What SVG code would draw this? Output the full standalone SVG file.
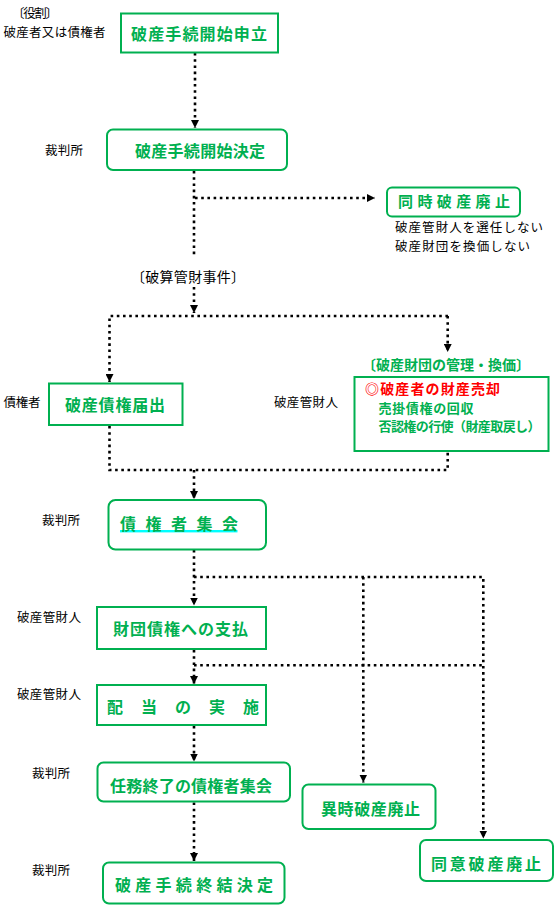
<svg xmlns="http://www.w3.org/2000/svg" width="556" height="909" viewBox="0 0 556 909">
<style>
.bx{fill:#fff;stroke:#00B050;stroke-width:2}
.gt{font-family:"Noto Sans CJK JP","Noto Sans",sans-serif;font-size:16px;font-weight:bold;fill:#00B050}
.g14{font-size:14px}
.g13{font-size:13px}
.g15{font-size:15px}
.red{fill:#FF0000}
.lb{font-family:"Noto Sans CJK JP","Noto Sans",sans-serif;font-size:12.5px;fill:#000}
.l14{font-size:14px}
.ln{fill:none;stroke:#000;stroke-width:2.6;stroke-dasharray:2.6 3.6}
.ar{marker-end:url(#ah)}
</style>
<defs>
<marker id="ah" viewBox="0 0 8 8" refX="8" refY="4" markerWidth="8" markerHeight="8" markerUnits="userSpaceOnUse" orient="auto">
<path d="M0,0 L8,4 L0,8 z" fill="#000"/>
</marker>
</defs>
<rect width="556" height="909" fill="#fff"/>

<g id="connectors">
<path class="ln ar" d="M195 53 V128"/>
<path class="ln" d="M194 171 V255"/>
<path class="ln ar" d="M194 287 V313"/>
<path class="ln ar" d="M195 198 H375"/>
<path class="ln ar" d="M448 316 H109.5 V382"/>
<path class="ln ar" d="M447.7 316 V352"/>
<path class="ln" d="M109.5 426 V470 H447.7 V452"/>
<path class="ln ar" d="M194 470 V499"/>
<path class="ln ar" d="M194 550 V605.5"/>
<path class="ln ar" d="M194 577 H483.3 V838.5"/>
<path class="ln ar" d="M363.3 577 V782.5"/>
<path class="ln ar" d="M194 650 V684"/>
<path class="ln" d="M194 665.3 H483.3"/>
<path class="ln ar" d="M194 726 V761.5"/>
<path class="ln ar" d="M194 802.5 V861"/>
</g>

<g id="roles">
<text class="lb" x="12" y="18" textLength="46">〔役割〕</text>
<text class="lb" x="3.5" y="37" textLength="102">破産者又は債権者</text>
<text class="lb" x="45" y="155" textLength="38">裁判所</text>
<text class="lb" x="3.5" y="407" textLength="37">債権者</text>
<text class="lb" x="274" y="407" textLength="64">破産管財人</text>
<text class="lb" x="42" y="525" textLength="38">裁判所</text>
<text class="lb" x="17" y="622" textLength="64">破産管財人</text>
<text class="lb" x="17" y="699" textLength="64">破産管財人</text>
<text class="lb" x="32" y="778" textLength="38">裁判所</text>
<text class="lb" x="32" y="875" textLength="38">裁判所</text>
</g>

<g id="n-moshitate">
<rect class="bx" x="121" y="13.5" width="157" height="39"/>
<text class="gt" x="131" y="39.5" textLength="136">破産手続開始申立</text>
</g>

<g id="n-kaishi-kettei">
<rect class="bx" x="107" y="129.5" width="180" height="40.5" rx="6"/>
<text class="gt" x="135" y="157" textLength="130">破産手続開始決定</text>
</g>

<g id="n-doji-haishi">
<rect class="bx" x="387" y="187.5" width="133" height="29" rx="5"/>
<text class="gt g15" x="398" y="207" textLength="112">同時破産廃止</text>
<text class="lb" x="395" y="232" textLength="148">破産管財人を選任しない</text>
<text class="lb" x="395" y="251" textLength="135">破産財団を換価しない</text>
</g>

<g id="l-hasan-kanzai">
<text class="lb l14" x="131" y="282" textLength="114">〔破算管財事件〕</text>
</g>

<g id="n-saiken-todokede">
<rect class="bx" x="49" y="383.5" width="133.5" height="41.5"/>
<text class="gt" x="65" y="411" textLength="100">破産債権届出</text>
</g>

<g id="n-zaidan-kanri">
<text class="gt g14" x="362" y="370" textLength="168">〔破産財団の管理・換価〕</text>
<rect class="bx" x="354.5" y="377" width="194" height="74"/>
<text class="gt g14 red" x="365" y="394" textLength="135">◎破産者の財産売却</text>
<text class="gt g13" x="378.5" y="413" textLength="95">売掛債権の回収</text>
<text class="gt g13" x="378.5" y="431" textLength="162">否認権の行使（財産取戻し）</text>
</g>

<g id="n-saikensha-shukai">
<rect class="bx" x="108.5" y="500" width="157.5" height="49.5" rx="7"/>
<rect x="120" y="530" width="117.5" height="2.4" fill="#00FFFF"/>
<text class="gt" x="120" y="529.5" textLength="118">債権者集会</text>
</g>

<g id="n-zaidan-shiharai">
<rect class="bx" x="97" y="607" width="169" height="42"/>
<text class="gt" x="113" y="635" textLength="135">財団債権への支払</text>
</g>

<g id="n-haito">
<rect class="bx" x="97" y="685" width="169" height="40"/>
<text class="gt" x="107" y="712.5" textLength="152">配当の実施</text>
</g>

<g id="n-ninmu-shukai">
<rect class="bx" x="97.5" y="762.5" width="192.5" height="39" rx="6"/>
<text class="gt" x="110" y="791.5" textLength="162">任務終了の債権者集会</text>
</g>

<g id="n-shuketsu">
<rect class="bx" x="103" y="862.5" width="181.5" height="41" rx="6"/>
<text class="gt" x="115" y="890.5" textLength="158">破産手続終結決定</text>
</g>

<g id="n-iji-haishi">
<rect class="bx" x="302.5" y="784.5" width="133" height="44.5" rx="6"/>
<text class="gt" x="321" y="814.5" textLength="99">異時破産廃止</text>
</g>

<g id="n-doi-haishi">
<rect class="bx" x="420" y="840" width="133" height="41" rx="6"/>
<text class="gt" x="431" y="869.5" textLength="110">同意破産廃止</text>
</g>
</svg>
